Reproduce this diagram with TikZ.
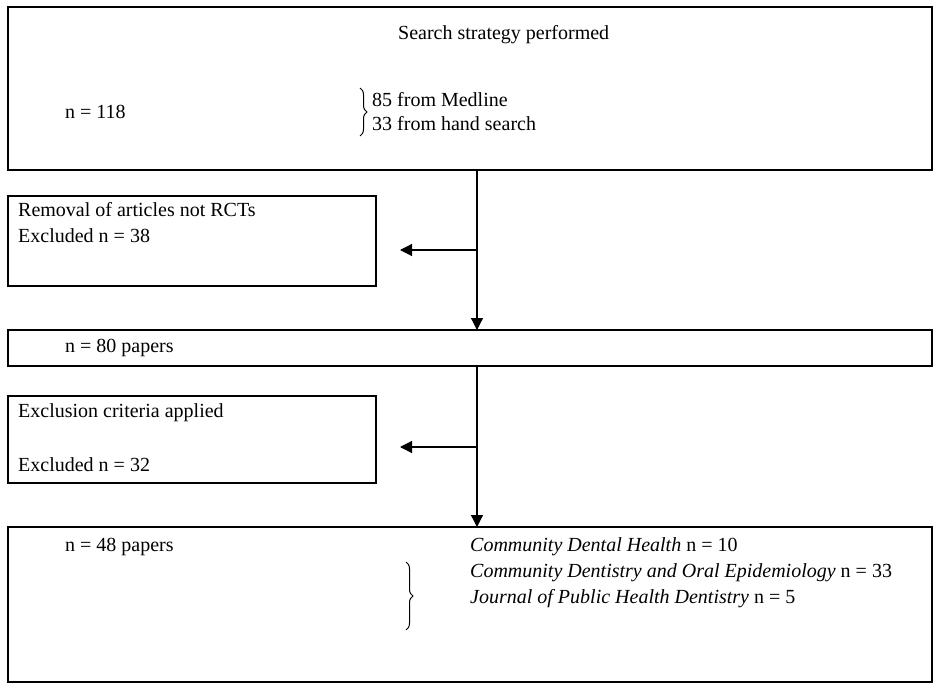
\documentclass[tikz,border=0pt]{standalone}
\usepackage{fontspec}
\setmainfont{Liberation Serif}
\usetikzlibrary{arrows.meta,decorations.pathreplacing}
\begin{document}
\begin{tikzpicture}[x=1pt,y=-1pt,
  box/.style={draw,line width=1.2pt,anchor=north west,inner sep=0pt,outer sep=0pt},
  txt/.style={anchor=west,inner sep=0pt,font=\fontsize{20}{24}\selectfont},
  arr/.style={line width=1.2pt,-{Triangle[length=12pt,width=12pt]}},
  brc/.style={decorate,decoration={brace,amplitude=7pt},line width=1pt}]
\useasboundingbox (0,0) rectangle (934,695);
% boxes
\node[box,minimum width=924pt,minimum height=163pt] (b1) at (8,7) {};
\node[box,minimum width=368pt,minimum height=90pt] (b2) at (8,196) {};
\node[box,minimum width=924pt,minimum height=36pt] (b3) at (8,330) {};
\node[box,minimum width=368pt,minimum height=87pt] (b4) at (8,396) {};
\node[box,minimum width=924pt,minimum height=155pt] (b5) at (8,527) {};
% texts
\node[txt] (t1) at (398,35) {Search strategy performed};
\node[txt] (t2) at (65,112) {n = 118};
\node[txt] (t3) at (372,100) {85 from Medline};
\node[txt] (t4) at (372,124) {33 from hand search};
\node[txt] (t5) at (18,210) {Removal of articles not RCTs};
\node[txt] (t6) at (18,236) {Excluded n = 38};
\node[txt] (t7) at (65,348) {n = 80 papers};
\node[txt] (t8) at (18,413) {Exclusion criteria applied};
\node[txt] (t9) at (18,465) {Excluded n = 32};
\node[txt] (t10) at (65,547) {n = 48 papers};
\node[txt] (t11) at (470,547) {\textit{Community Dental Health} n = 10};
\node[txt] (t12) at (470,573) {\textit{Community Dentistry and Oral Epidemiology} n = 33};
\node[txt] (t13) at (470,599) {\textit{Journal of Public Health Dentistry} n = 5};
% braces
\coordinate (br1a) at (360,88);
\coordinate (br1b) at (360,136);
\draw[brc] (br1a) -- (br1b);
\coordinate (br2a) at (406,562);
\coordinate (br2b) at (406,630);
\draw[brc] (br2a) -- (br2b);
% connectors
\coordinate (j1) at (477,250);
\coordinate (e1) at (400,250);
\coordinate (j2) at (477,447);
\coordinate (e2) at (400,447);
\draw[arr] (b1.south -| j1) -- (b3.north -| j1);
\draw[arr] (j1) -- (e1);
\draw[arr] (b3.south -| j2) -- (b5.north -| j2);
\draw[arr] (j2) -- (e2);
\end{tikzpicture}
\end{document}
